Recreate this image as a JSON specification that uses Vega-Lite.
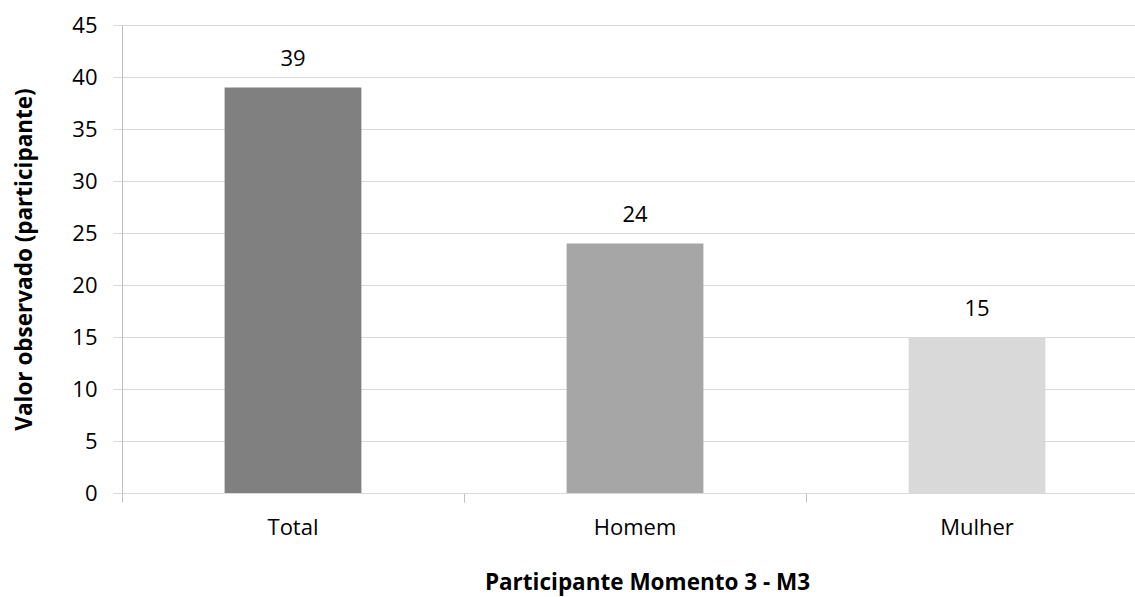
{
  "$schema": "https://vega.github.io/schema/vega-lite/v6.json",
  "autosize": "none",
  "width": 1026,
  "height": 468,
  "padding": {"left": 122, "top": 25, "right": 0, "bottom": 104},
  "background": "white",
  "config": {"view": {"stroke": null}, "font": "Open Sans"},
  "data": {"values": [
    {"categoria": "Total", "valor": 39},
    {"categoria": "Homem", "valor": 24},
    {"categoria": "Mulher", "valor": 15}
  ]},
  "encoding": {
    "x": {"field": "categoria", "type": "nominal", "sort": null,
      "scale": {"paddingInner": 0, "paddingOuter": 0},
      "axis": {"title": "Participante Momento 3 - M3", "titleFont": "Open Sans", "titleFontSize": 22.5, "titleFontWeight": "bold", "titleColor": "#000000", "titlePadding": 33, "titleX": 525,
        "labelAngle": 0, "labelFontSize": 22, "labelColor": "#000000", "labelPadding": 15,
        "bandPosition": 0, "tickSize": 9, "tickColor": "#bfbfbf", "domainColor": "#d9d9d9", "grid": false}},
    "y": {"field": "valor", "type": "quantitative", "scale": {"domain": [0, 45], "nice": false},
      "axis": {"title": "Valor observado (participante)", "titleFont": "Open Sans", "titleFontSize": 22.5, "titleFontWeight": "bold", "titleColor": "#000000", "titlePadding": 35,
        "values": [0, 5, 10, 15, 20, 25, 30, 35, 40, 45], "labelFontSize": 22, "labelColor": "#000000", "labelPadding": 16,
        "tickSize": 9, "tickColor": "#d9d9d9", "domainColor": "#bfbfbf", "gridColor": "#d9d9d9", "grid": true}}
  },
  "layer": [
    {"mark": {"type": "bar", "width": {"band": 0.4}},
     "encoding": {"color": {"field": "categoria", "type": "nominal", "scale": {"domain": ["Total", "Homem", "Mulher"], "range": ["#808080", "#a6a6a6", "#d9d9d9"]}, "legend": null}}},
    {"mark": {"type": "text", "baseline": "middle", "dy": -28, "fontSize": 22, "color": "#000000"},
     "encoding": {"text": {"field": "valor", "type": "quantitative"}}}
  ]
}
